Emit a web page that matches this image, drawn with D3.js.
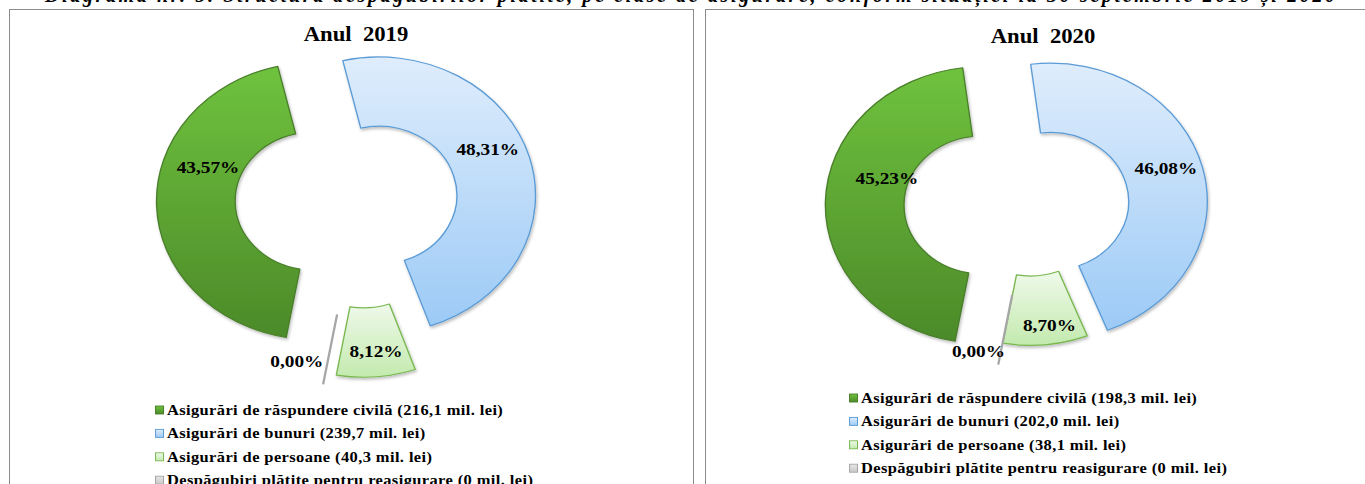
<!DOCTYPE html>
<html>
<head>
<meta charset="utf-8">
<script src="https://cdn.jsdelivr.net/npm/d3@7"></script>
<style>
  body { margin: 0; background: #fff; }
  svg { display: block; }
  text { font-family: "Liberation Serif", "Times New Roman", serif; font-weight: bold; fill: #000; }
</style>
</head>
<body>
<script>
// data, legend order
var categories = [
    "Asigurări de răspundere civilă",
    "Asigurări de bunuri",
    "Asigurări de persoane",
    "Despăgubiri plătite pentru reasigurare"
];
var years = ["2019", "2020"];
var amounts2019 = [216.1, 239.7, 40.3, 0];   // mil. lei
var amounts2020 = [198.3, 202.0, 38.1, 0];
var shares2019 = [43.57, 48.31, 8.12, 0.00]; // %
var shares2020 = [45.23, 46.08, 8.70, 0.00];
var pageTitle = "Diagrama nr. 5. Structura despăgubirilor plătite, pe clase de asigurare, conform situației la 30 septembrie 2019 și 2020";

//svg size
var w = 1365, h = 484;
var SX = 1.135; // the excel picture was stretched sideways

var svg = d3.select("body").append("svg")
    .attr("width", w)
    .attr("height", h);

// colours per category: [top, bottom, stroke]
var colors = [
    ["#6fc23e", "#4c8a29", "#4a7f2a"],
    ["#dfedfc", "#9ccaf6", "#5b9bd5"],
    ["#eff9ea", "#c3eaae", "#79b850"],
    ["#e6e6e6", "#c8c8c8", "#a6a6a6"]
];

var defs = svg.append("defs");
colors.forEach(function(c, i){
    var g = defs.append("linearGradient")
        .attr("id", "grad" + i)
        .attr("x1", 0).attr("y1", 0).attr("x2", 0).attr("y2", 1);
    g.append("stop").attr("offset", "0%").attr("stop-color", c[0]);
    g.append("stop").attr("offset", "100%").attr("stop-color", c[1]);
});
defs.append("filter").attr("id", "shadow")
    .attr("x", "-20%").attr("y", "-20%").attr("width", "140%").attr("height", "140%")
    .append("feDropShadow")
    .attr("dx", 1).attr("dy", 2).attr("stdDeviation", 1.5)
    .attr("flood-color", "#000").attr("flood-opacity", 0.25);

//top caption, mostly cut off by the page edge
svg.append("text")
    .attr("x", 45)
    .attr("y", 2)
    .attr("textLength", 1290)
    .attr("lengthAdjust", "spacing")
    .style("font-style", "italic")
    .style("font-size", "20px")
    .text(pageTitle);

var locale = d3.formatLocale({decimal: ",", thousands: ".", grouping: [3], currency: ["", ""]});
var fmtPct = locale.format(".2f");
var fmtAmt = function(v){ return v === 0 ? "0" : locale.format(".1f")(v); };

// layout of both panels
var panels = [
    {year: years[0], amounts: amounts2019, shares: shares2019,
     box: [9, 9, 684], cx: 360, cy: 200, titleX: 356, titleY: 40.5,
     explode: [41, 17, 39, 48],
     nudge: [[10.7, -37.5], [-3.3, -17.5], [2.7, 9], [-29.3, 11.5]],
     legendX: 155, legendY: 410},
    {year: years[1], amounts: amounts2020, shares: shares2020,
     box: [705, 9, 700], cx: 1030, cy: 206, titleX: 1043, titleY: 42.5,
     explode: [42, 18.5, 1, 22],
     nudge: [[19.5, -24.5], [1.4, -8], [6.8, 14.5], [-23.6, 21.5]],
     legendX: 849, legendY: 398}
];

var R = 138.3, r = 69;
var start = 190 * Math.PI / 180; //angle of first slice
var pie = d3.pie()
    .sort(null)
    .value(function(d){ return d; })
    .startAngle(start)
    .endAngle(start + 2 * Math.PI);
var arc = d3.arc().innerRadius(r).outerRadius(R);

panels.forEach(function(p){
    //panel frame
    svg.append("rect")
        .attr("x", p.box[0] + 0.5)
        .attr("y", p.box[1] + 0.5)
        .attr("width", p.box[2])
        .attr("height", h)
        .style("fill", "none")
        .style("stroke", "#8c8c8c");

    //title
    svg.append("g")
        .attr("transform", "translate(" + p.titleX + "," + p.titleY + ") scale(" + SX + ",1)")
        .append("text")
        .attr("text-anchor", "middle")
        .style("font-size", "20px")
        .style("white-space", "pre")
        .text("Anul  " + p.year);

    var chart = svg.append("g")
        .attr("transform", "translate(" + p.cx + "," + p.cy + ") scale(" + SX + ",1)");

    var arcs = pie(p.shares);

    var slices = chart.selectAll(".slice")
        .data(arcs)
        .enter()
        .append("g")
        .attr("class", "slice")
        .attr("transform", function(d, i){
            var a = (d.startAngle + d.endAngle) / 2;
            var e = p.explode[i];
            return "translate(" + (e * Math.sin(a)) + "," + (-e * Math.cos(a)) + ")";
        });

    slices.append("path")
        .attr("d", arc)
        .attr("filter", function(d, i){ return i < 3 ? "url(#shadow)" : null; })
        .style("fill", function(d, i){ return i < 3 ? "url(#grad" + i + ")" : "none"; })
        .style("stroke", function(d, i){ return colors[i][2]; })
        .style("stroke-width", function(d, i){ return i < 3 ? 1.2 : 2; })
        .style("stroke-linejoin", "round");

    //value labels
    slices.append("text")
        .attr("text-anchor", "middle")
        .attr("x", function(d, i){ return arc.centroid(d)[0] + p.nudge[i][0]; })
        .attr("y", function(d, i){ return arc.centroid(d)[1] + p.nudge[i][1]; })
        .attr("dy", "0.36em")
        .style("font-size", "17px")
        .text(function(d){ return fmtPct(d.data) + "%"; });

    //legend
    var legend = svg.append("g")
        .attr("transform", "translate(" + p.legendX + "," + p.legendY + ") scale(" + SX + ",1)");
    var rows = legend.selectAll(".row")
        .data(categories)
        .enter()
        .append("g")
        .attr("class", "row")
        .attr("transform", function(d, i){ return "translate(0," + (i * 23.4) + ")"; });
    rows.append("rect")
        .attr("x", 0.5)
        .attr("y", -4)
        .attr("width", 7)
        .attr("height", 8)
        .style("fill", function(d, i){ return "url(#grad" + i + ")"; })
        .style("stroke", function(d, i){ return colors[i][2]; })
        .style("stroke-width", 0.9);
    rows.append("text")
        .attr("x", 10.5)
        .attr("dy", "0.35em")
        .style("font-size", "14.5px")
        .style("letter-spacing", "0.35px")
        .text(function(d, i){ return d + " (" + fmtAmt(p.amounts[i]) + " mil. lei)"; });
});
</script>
</body>
</html>
